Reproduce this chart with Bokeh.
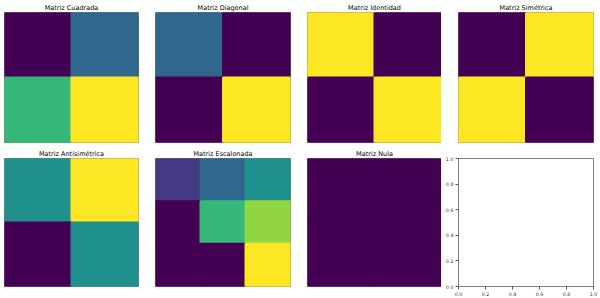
import numpy as np
from bokeh.plotting import figure
from bokeh.layouts import row, column
from bokeh.models import ColumnDataSource, Range1d, FixedTicker, PrintfTickFormatter
from bokeh.palettes import Viridis256
from bokeh.transform import linear_cmap
from bokeh.embed import file_html
from bokeh.resources import INLINE

# Matrices shown in the grid
titles = [
    "Matriz Cuadrada", "Matriz Diagonal", "Matriz Identidad", "Matriz Simétrica",
    "Matriz Antisimétrica", "Matriz Escalonada", "Matriz Nula",
]
cuadrada = [[1, 2], [3, 4]]
diagonal = [[1, 0], [0, 3]]
identidad = [[1, 0], [0, 1]]
simetrica = [[1, 2], [2, 1]]
antisimetrica = [[0, 1], [-1, 0]]
escalonada = [[1, 2, 3], [0, 4, 5], [0, 0, 6]]
nula = [[0, 0], [0, 0]]
matrices = [cuadrada, diagonal, identidad, simetrica, antisimetrica, escalonada, nula]

# Ticks of the empty last panel
empty_ticks = [0.0, 0.2, 0.4, 0.6, 0.8, 1.0]

FONT = "DejaVu Sans"
OUTLINE = "#808080"

# (left border, frame width, right border) per column
col_specs = [(4, 134, 12), (5, 135, 12), (5, 134, 0), (17, 135, 7)]
# (top border, frame height, bottom border) per row
row_specs = [(12, 130, 4), (9, 131, 12)]


def matrix_panel(title, m, cspec, rspec):
    m = np.asarray(m, dtype=float)
    n_rows, n_cols = m.shape
    lo, hi = float(m.min()), float(m.max())
    if hi == lo:
        hi = lo + 1.0
    r_idx, c_idx = np.indices(m.shape)
    src = ColumnDataSource(dict(
        x=c_idx.ravel(),
        y=(n_rows - 1 - r_idx).ravel(),
        v=m.ravel(),
    ))
    left, fw, right = cspec
    top, fh, bottom = rspec
    p = figure(
        width=left + fw + right, height=top + fh + bottom,
        x_range=Range1d(-0.5, n_cols - 0.5), y_range=Range1d(-0.5, n_rows - 0.5),
        x_axis_location=None, y_axis_location=None,
        output_backend="svg", toolbar_location=None,
        min_border_left=left, min_border_right=right,
        min_border_top=top, min_border_bottom=bottom,
        title=title,
    )
    cmap = linear_cmap("v", Viridis256, lo, hi)
    # a stroke in the cell's own colour closes the anti-aliasing seams between cells
    p.rect("x", "y", 1, 1, source=src, fill_color=cmap, line_color=cmap, line_width=2)
    p.grid.visible = False
    p.outline_line_color = OUTLINE
    p.outline_line_width = 1
    p.title.align = "center"
    p.title.text_font = FONT
    p.title.text_font_size = "6.5px"
    p.title.text_font_style = "normal"
    p.title.text_color = "black"
    p.title.standoff = 2
    p.background_fill_color = "white"
    p.border_fill_color = "white"
    return p


def empty_panel(cspec, rspec):
    left, fw, right = cspec
    top, fh, bottom = rspec
    p = figure(
        width=left + fw + right, height=top + fh + bottom,
        x_range=Range1d(0, 1), y_range=Range1d(0, 1),
        output_backend="svg", toolbar_location=None,
        min_border_left=left, min_border_right=right,
        min_border_top=top, min_border_bottom=bottom,
    )
    p.grid.visible = False
    for ax in (p.xaxis[0], p.yaxis[0]):
        ax.ticker = FixedTicker(ticks=empty_ticks)
        ax.formatter = PrintfTickFormatter(format="%.1f")
        ax.major_label_text_font = FONT
        ax.major_label_text_font_size = "4.8px"
        ax.major_label_text_color = "#333333"
        ax.major_label_standoff = 2
        ax.major_tick_out = 3
        ax.major_tick_in = 0
        ax.minor_tick_line_color = None
        ax.axis_line_color = OUTLINE
        ax.major_tick_line_color = "#555555"
    p.outline_line_color = OUTLINE
    p.outline_line_width = 1
    p.border_fill_color = "white"
    return p


panels = []
for i, (t, m) in enumerate(zip(titles, matrices)):
    panels.append(matrix_panel(t, m, col_specs[i % 4], row_specs[i // 4]))
panels.append(empty_panel(col_specs[3], row_specs[1]))

layout = column(
    row(*panels[:4], spacing=0),
    row(*panels[4:], spacing=0),
    spacing=0,
)

open("out.html", "w").write(file_html(layout, INLINE))
